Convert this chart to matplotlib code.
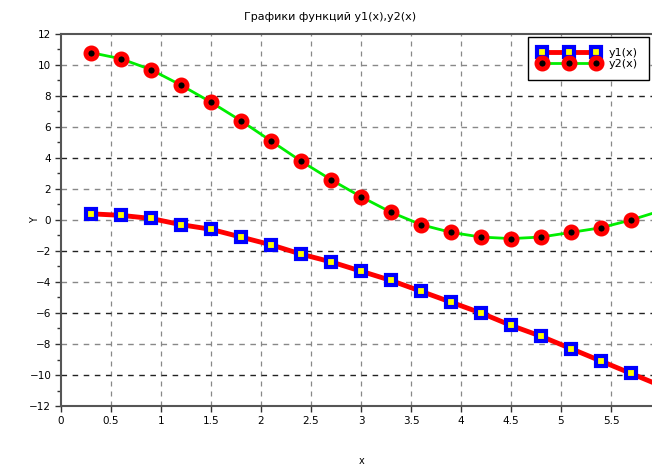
import numpy as np
import matplotlib
matplotlib.use("Agg")
import matplotlib.pyplot as plt
from matplotlib.ticker import MultipleLocator

# ---------------------------
# Data
# ---------------------------
x_pts = [0.3, 0.6, 0.9, 1.2, 1.5, 1.8, 2.1, 2.4, 2.7, 3.0,
         3.3, 3.6, 3.9, 4.2, 4.5, 4.8, 5.1, 5.4, 5.7]
y1_pts = [0.4, 0.3, 0.1, -0.3, -0.6, -1.1, -1.6, -2.2, -2.7, -3.3,
          -3.9, -4.6, -5.3, -6.0, -6.8, -7.5, -8.3, -9.1, -9.9]
y2_pts = [10.8, 10.4, 9.7, 8.7, 7.6, 6.4, 5.1, 3.8, 2.6, 1.5,
          0.5, -0.3, -0.8, -1.1, -1.2, -1.1, -0.8, -0.5, 0.0]

# curves run on past the last marker, off the right edge
x_end = 6.0
y1_end = -10.7
y2_end = 0.6

x_ticks = [0, 0.5, 1, 1.5, 2, 2.5, 3, 3.5, 4, 4.5, 5, 5.5]
x_labels = ["0", "0.5", "1", "1.5", "2", "2.5", "3", "3.5", "4", "4.5", "5", "5.5"]
y_ticks = [12, 10, 8, 6, 4, 2, 0, -2, -4, -6, -8, -10, -12]
dark_grid = [8, 4, -2, -6, -10]

title = "Графики функций y1(x),y2(x)"
legend_labels = ["y1(x)", "y2(x)"]

# ---------------------------
# Plot
# ---------------------------
plt.rcParams["font.family"] = ["DejaVu Sans"]
fig = plt.figure(figsize=(6.52, 4.66), dpi=100)
ax = fig.add_axes([61 / 652, 1 - 406 / 466, 600 / 652, 372 / 466])

ax.set_xlim(0, 6)
ax.set_ylim(-12, 12)

# grid
for xv in x_ticks[1:]:
    ax.axvline(xv, color="#888888", lw=0.9, ls=(0, (4, 4)), zorder=0)
for yv in y_ticks[1:-1]:
    col = "#222222" if yv in dark_grid else "#888888"
    ax.axhline(yv, color=col, lw=1.0, ls=(0, (4, 4)), zorder=0)

lx = x_pts + [x_end]
ly1 = y1_pts + [y1_end]
ly2 = y2_pts + [y2_end]

y1_style = dict(color="red", lw=3.5, marker="s", ms=7, mfc="yellow",
                mec="blue", mew=3)
y2_style = dict(color="#00ee00", lw=2.0, marker="o", ms=8, mfc="black",
                mec="red", mew=3.5)

ax.plot(lx, ly1, color="red", lw=3.5, zorder=2)
ax.plot(lx, ly2, color="#00ee00", lw=2.0, zorder=2)
ax.plot(x_pts, y1_pts, ls="none", marker="s", ms=7, mfc="yellow",
        mec="blue", mew=3, zorder=3)
ax.plot(x_pts, y2_pts, ls="none", marker="o", ms=8, mfc="black",
        mec="red", mew=3.5, zorder=3)

# legend handles
h1, = ax.plot([], [], **y1_style)
h2, = ax.plot([], [], **y2_style)
leg = ax.legend([h1, h2], legend_labels, numpoints=3, handlelength=5.4,
                loc="upper left", bbox_to_anchor=(528 / 652, 1 - 37 / 466),
                bbox_transform=fig.transFigure, fontsize=8, frameon=True,
                fancybox=False, borderpad=1.0, labelspacing=0.1,
                handletextpad=0.9, borderaxespad=0)
leg.get_frame().set_edgecolor("black")
leg.get_frame().set_linewidth(1.0)
leg.get_frame().set_alpha(1)

# axes look
ax.set_xticks(x_ticks)
ax.set_xticklabels(x_labels)
ax.set_yticks(y_ticks)
ax.yaxis.set_minor_locator(MultipleLocator(1))
ax.tick_params(axis="both", labelsize=7.5, length=4, width=1, color="#333333",
               direction="out", pad=3)
ax.tick_params(axis="y", which="minor", length=3, width=1, color="#333333")
for side in ["left", "bottom", "top"]:
    ax.spines[side].set_color("#555555")
    ax.spines[side].set_linewidth(1.5)
ax.spines["right"].set_visible(False)

fig.text(330 / 652, 1 - 17 / 466, title, ha="center", va="center", fontsize=8)
fig.text(362 / 652, 1 - 461 / 466, "x", ha="center", va="center", fontsize=7)
fig.text(35 / 652, 1 - 220 / 466, "Y", ha="center", va="center", fontsize=7,
         rotation=90)

fig.savefig("out.png", dpi=100)
